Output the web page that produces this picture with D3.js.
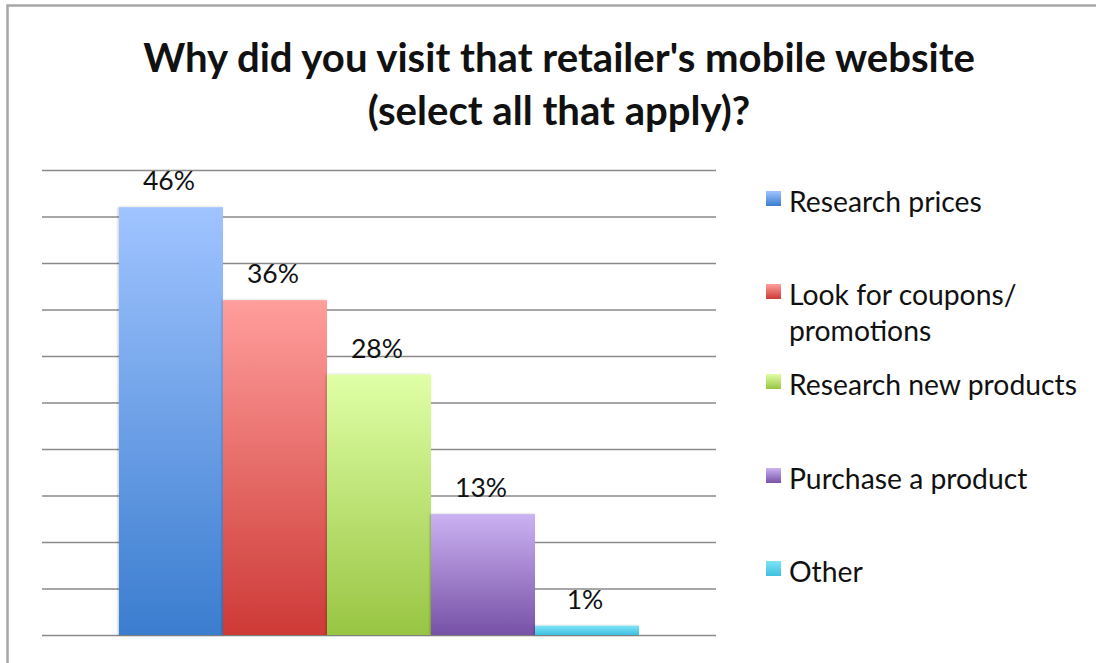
<!DOCTYPE html>
<html>
<head>
<meta charset="utf-8">
<script src="https://cdn.jsdelivr.net/npm/d3@7/dist/d3.min.js"></script>
<style>
  html, body { margin: 0; padding: 0; background: #fff; }
  svg { display: block; }
  text { font-family: Lato, "Open Sans", "Noto Sans", sans-serif; fill: #111; }
</style>
</head>
<body>
<svg id="chart" width="1096" height="663"></svg>
<script>
// Survey answers (percent of respondents)
const categories = ["Research prices", "Look for coupons/ promotions", "Research new products", "Purchase a product", "Other"];
const legendLines = [["Research prices"], ["Look for coupons/", "promotions"], ["Research new products"], ["Purchase a product"], ["Other"]];
const values = [46, 36, 28, 13, 1];
const valueLabels = ["46%", "36%", "28%", "13%", "1%"];
const gridTicks = [0, 5, 10, 15, 20, 25, 30, 35, 40, 45, 50];
const titleLines = ["Why did you visit that retailer's mobile website", "(select all that apply)?"];

// gradient stops per series: [top, bottom]
const palette = [
  ["#a0c4ff", "#3b7dcf"],
  ["#ff9e9c", "#cd3a36"],
  ["#e0ffa6", "#98c543"],
  ["#cbb2f2", "#7751a6"],
  ["#7ee3f7", "#3fc0e0"]
];

const svg = d3.select("#chart");
const W = 1096, H = 663;
const plot = { left: 42, right: 716, top: 170, bottom: 635 };

const defs = svg.append("defs");
palette.forEach((c, i) => {
  const g = defs.append("linearGradient").attr("id", "grad" + i)
    .attr("x1", 0).attr("y1", 0).attr("x2", 0).attr("y2", 1);
  g.append("stop").attr("offset", "0%").attr("stop-color", c[0]);
  g.append("stop").attr("offset", "100%").attr("stop-color", c[1]);
});
const shadow = defs.append("filter").attr("id", "shadow")
  .attr("x", "-10%").attr("y", "-10%").attr("width", "130%").attr("height", "130%");
shadow.append("feDropShadow").attr("dx", -1).attr("dy", 0).attr("stdDeviation", 1.2)
  .attr("flood-color", "#000").attr("flood-opacity", 0.25);

// outer frame
svg.append("path")
  .attr("d", `M7.5,${H} V5.5 H${W}`)
  .attr("fill", "none").attr("stroke", "#a8a8a8").attr("stroke-width", 2.5);

const y = d3.scaleLinear().domain([0, 50]).range([plot.bottom, plot.top]);
const x = d3.scaleBand().domain(categories)
  .range([plot.left, plot.right]).paddingInner(0).paddingOuter(0.74);

// horizontal gridlines
const yAxis = d3.axisLeft(y).tickValues(gridTicks)
  .tickSize(-(plot.right - plot.left)).tickFormat("");
const ga = svg.append("g").attr("transform", `translate(${plot.left},0)`).call(yAxis);
ga.select(".domain").remove();
ga.selectAll(".tick line").attr("stroke", "#8a8a8a").attr("stroke-width", 1.6);

// bars
svg.append("g").selectAll("rect").data(values).join("rect")
  .attr("x", (d, i) => x(categories[i]))
  .attr("y", d => y(d))
  .attr("width", x.bandwidth())
  .attr("height", d => y(0) - y(d))
  .attr("fill", (d, i) => `url(#grad${i})`)
  .attr("filter", "url(#shadow)");

// fit a font size so that a sample string spans a given width
function fitSize(sample, targetWidth, weight) {
  const t = svg.append("text").attr("font-size", 40).attr("font-weight", weight).text(sample);
  const w = t.node().getComputedTextLength();
  t.remove();
  return 40 * targetWidth / w;
}

// value labels
const labelSize = fitSize("46%", 52, "normal");
svg.append("g").selectAll("text").data(values).join("text")
  .attr("x", (d, i) => x(categories[i]) + x.bandwidth() / 2 - 2)
  .attr("y", d => y(d) - 17)
  .attr("text-anchor", "middle")
  .attr("font-size", labelSize)
  .text((d, i) => valueLabels[i]);

// title
const titleSize = fitSize(titleLines[0], 832, "bold");
svg.append("g").selectAll("text").data(titleLines).join("text")
  .attr("x", 559)
  .attr("y", (d, i) => 72 + i * 53)
  .attr("text-anchor", "middle")
  .attr("font-weight", "bold")
  .attr("font-size", titleSize)
  .text(d => d);

// legend
const legendSize = fitSize("Research new products", 288, "normal");
const legendBaselines = [212, 305, 395, 489, 582];
const lg = svg.append("g");
legendLines.forEach((lines, i) => {
  const b = legendBaselines[i];
  lg.append("rect").attr("x", 766).attr("y", b - 21).attr("width", 15).attr("height", 15)
    .attr("fill", `url(#grad${i})`);
  lines.forEach((line, j) => {
    lg.append("text").attr("x", 789).attr("y", b + j * 36)
      .attr("font-size", legendSize).text(line);
  });
});
</script>
</body>
</html>
